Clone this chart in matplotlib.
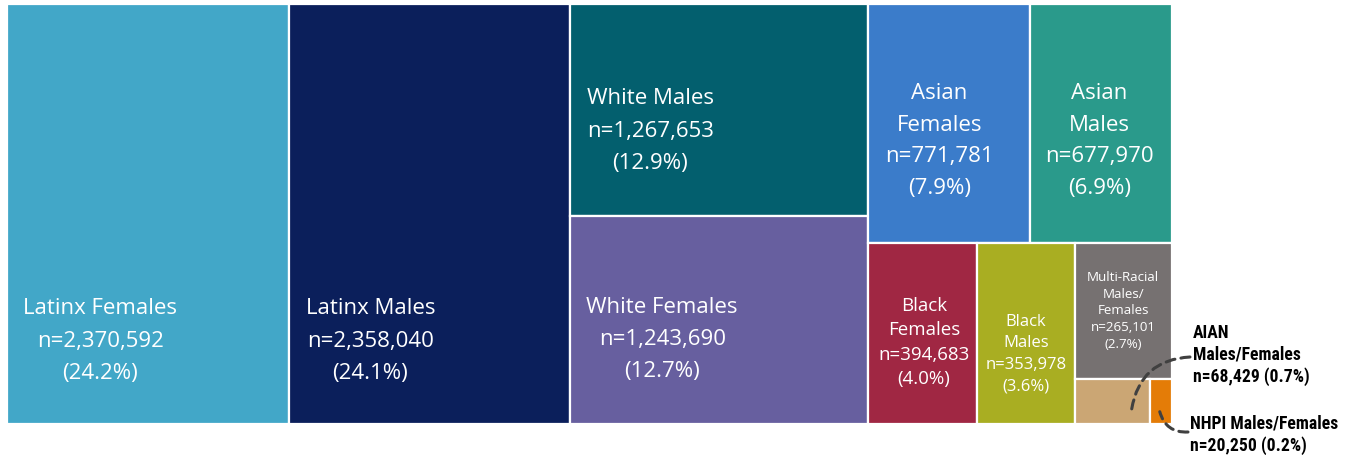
import matplotlib
matplotlib.use('Agg')
import matplotlib.pyplot as plt
from matplotlib.patches import Rectangle

# data (already sorted from big to small, as the treemap needs)
groups = ['Latinx Females', 'Latinx Males', 'White Males', 'White Females',
          'Asian\nFemales', 'Asian\nMales', 'Black\nFemales', 'Black\nMales',
          'Multi-Racial\nMales/\nFemales', 'AIAN Males/Females', 'NHPI Males/Females']
counts = [2370592, 2358040, 1267653, 1243690, 771781, 677970,
          394683, 353978, 265101, 68429, 20250]
colors = ['#42A7C8', '#0B1F5B', '#035F6E', '#675F9F', '#3B7CCA', '#2A9A8B',
          '#A02743', '#A9AE22', '#767171', '#CBA674', '#E47C07']

# label placement inside each box (fraction of box w / h), font size, line spacing
label_pos = [(0.33, 0.80), (0.29, 0.80), (0.27, 0.595), (0.31, 0.59),
             (0.44, 0.57), (0.49, 0.57), (0.51, 0.545), (0.50, 0.61),
             (0.50, 0.495), None, None]
label_size = [16, 16, 16, 16, 16, 16, 13.5, 12, 9.6, None, None]
label_spacing = [1.7, 1.7, 1.7, 1.7, 1.68, 1.68, 1.46, 1.48, 1.38, None, None]

W, H = 1165, 420  # treemap area in pixels


def worst(row, side):
    s = sum(row)
    return max(max(side ** 2 * r / s ** 2, s ** 2 / (side ** 2 * r)) for r in row)


def squarify(areas, x, y, w, h):
    rects = []
    areas = list(areas)
    while areas:
        side = min(w, h)
        row = [areas.pop(0)]
        while areas and worst(row + [areas[0]], side) <= worst(row, side):
            row.append(areas.pop(0))
        s = sum(row)
        if w >= h:  # column on the left
            cw = s / h
            yy = y
            for a in row:
                rects.append((x, yy, cw, a / cw))
                yy += a / cw
            x += cw
            w -= cw
        else:  # row on top
            rh = s / w
            xx = x
            for a in row:
                rects.append((xx, y, a / rh, rh))
                xx += a / rh
            y += rh
            h -= rh
    return rects


total = sum(counts)
areas = [c / total * W * H for c in counts]
rects = squarify(areas, 0, 0, W, H)

plt.rcParams.update({'font.family': ['Open Sans', 'DejaVu Sans']})

fig = plt.figure(figsize=(13.51, 4.56), dpi=100)
ax = fig.add_axes([7 / 1351, (456 - 425) / 456, W / 1351, H / 456])
ax.set_xlim(0, W)
ax.set_ylim(H, 0)
ax.axis('off')

for i, (x, y, w, h) in enumerate(rects):
    ax.add_patch(Rectangle((x, y), w, h, facecolor=colors[i], edgecolor='white', lw=1.6))
    if label_pos[i] is None:
        continue
    pct = counts[i] / total * 100
    txt = '%s\nn=%s\n(%.1f%%)' % (groups[i], format(counts[i], ','), pct)
    fx, fy = label_pos[i]
    ax.text(x + fx * w, y + fy * h, txt, color='white', ha='center', va='center',
            multialignment='center', fontsize=label_size[i], linespacing=label_spacing[i])

# call-outs for the two tiny boxes
narrow = ['Roboto Condensed', 'Liberation Sans Narrow', 'Roboto', 'DejaVu Sans']
ax_x, ax_y, ax_w, ax_h = rects[9]
ax.text(1186, 350, 'AIAN\nMales/Females\nn=%s (%.1f%%)' % (format(counts[9], ','), counts[9] / total * 100),
        ha='left', va='center', fontsize=12.7, fontweight='bold', family=narrow,
        fontstretch='condensed', linespacing=1.25, clip_on=False)
ax.annotate('', xy=(ax_x + 0.76 * ax_w, ax_y + 0.67 * ax_h), xytext=(1183, 353),
            arrowprops=dict(arrowstyle='-', color='#404040', lw=2.2, linestyle=(0, (3, 2)),
                            connectionstyle='arc3,rad=0.4', shrinkA=0, shrinkB=0),
            annotation_clip=False)

nx, ny, nw, nh = rects[10]
ax.text(1183, 430, 'NHPI Males/Females\nn=%s (%.1f%%)' % (format(counts[10], ','), counts[10] / total * 100),
        ha='left', va='center', fontsize=12.7, fontweight='bold', family=narrow,
        fontstretch='condensed', linespacing=1.25, clip_on=False)
ax.annotate('', xy=(nx + 0.45 * nw, ny + 0.73 * nh), xytext=(1181, 428),
            arrowprops=dict(arrowstyle='-', color='#404040', lw=2.2, linestyle=(0, (3, 2)),
                            connectionstyle='arc3,rad=-0.4', shrinkA=0, shrinkB=0),
            annotation_clip=False)

fig.savefig('out.png', dpi=100)
